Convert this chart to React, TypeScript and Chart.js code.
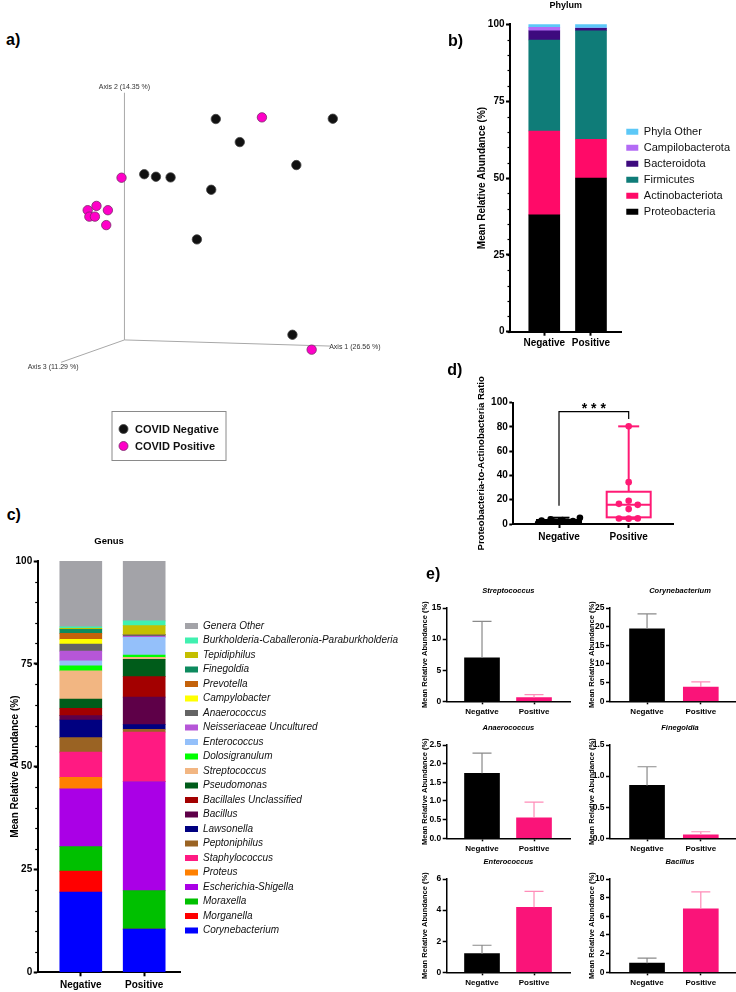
import React, { useEffect, useRef } from 'react';
import { Chart, registerables } from 'chart.js';

Chart.register(...registerables);

const FONT = "'Liberation Sans', Arial, Helvetica, sans-serif";
Chart.defaults.font.family = FONT;
Chart.defaults.color = '#000';

// ===================== Panel a : PCoA (projected 3D coordinates) =====================
const A_GROUPS = ['COVID Negative', 'COVID Positive'];
const A_NEG_X = [0.937, 2.137, 1.183, 1.763, 0.203, 0.323, 0.473, 0.89, 0.743, 1.723];
const A_NEG_Y = [2.27, 2.273, 2.033, 1.797, 1.703, 1.677, 1.67, 1.543, 1.033, 0.053];
const A_POS_X = [1.41, -0.03, -0.377, -0.287, -0.17, -0.36, -0.303, -0.187, 1.92];
const A_POS_Y = [2.287, 1.667, 1.333, 1.377, 1.333, 1.267, 1.267, 1.18, -0.1];
const A_AXIS_NAMES = ['Axis 1 (26.56 %)', 'Axis 2 (14.35 %)', 'Axis 3 (11.29 %)'];
const A_AXIS_END_X = [2.11, 0, -0.65];
const A_AXIS_END_Y = [-0.063, 2.54, -0.23];

// ===================== Panel b : Phylum =====================
const B_CATS = ['Negative', 'Positive'];
const B_PHYLA = ['Proteobacteria', 'Actinobacteriota', 'Firmicutes', 'Bacteroidota', 'Campilobacterota', 'Phyla Other'];
const B_NEG = [38.0, 27.3, 29.6, 3.0, 1.1, 1.0];
const B_POS = [50.0, 12.6, 35.3, 0.8, 0.1, 1.2];
const B_COLORS = ['#000000', '#ff0a68', '#0f7c78', '#3d0a7e', '#b36bf5', '#5cc8f7'];

// ===================== Panel c : Genus =====================
const C_CATS = ['Negative', 'Positive'];
const C_GENERA = [
  'Corynebacterium', 'Morganella', 'Moraxella', 'Escherichia-Shigella', 'Proteus', 'Staphylococcus',
  'Peptoniphilus', 'Lawsonella', 'Bacillus', 'Bacillales Unclassified', 'Pseudomonas', 'Streptococcus',
  'Dolosigranulum', 'Enterococcus', 'Neisseriaceae Uncultured', 'Anaerococcus', 'Campylobacter',
  'Prevotella', 'Finegoldia', 'Tepidiphilus', 'Burkholderia-Caballeronia-Paraburkholderia', 'Genera Other',
];
const C_NEG = [19.5, 5.1, 5.95, 14.05, 2.8, 6.15, 3.5, 4.3, 1.05, 1.8, 2.25, 6.85, 1.2, 1.2, 2.4, 1.7, 1.15, 1.45, 1.0, 0.2, 0.4, 16.0];
const C_POS = [10.5, 0, 9.35, 26.5, 0, 12.05, 0.7, 1.1, 6.7, 5.0, 4.2, 0.5, 0.55, 4.3, 0.25, 0.35, 0, 0.1, 0.05, 2.1, 1.15, 14.55];
const C_COLORS = [
  '#0000ff', '#ff0000', '#00c000', '#aa00e6', '#ff8000', '#ff1a82',
  '#9a6323', '#000080', '#5e0048', '#a30000', '#005c1a', '#f2b682',
  '#00ff00', '#94c0fa', '#b656d8', '#646464', '#ffff00',
  '#c4620a', '#0d8a5e', '#c4bf00', '#40f0b0', '#a3a3a8',
];

// ===================== Panel d : Proteobacteria-to-Actinobacteria ratio =====================
const D_GROUPS = ['Negative', 'Positive'];
const D_NEG = [0.6, 1.0, 1.3, 1.6, 2.0, 2.4, 2.9, 3.3, 3.9, 5.2];
const D_NEG_JITTER = [-0.3, 0.27, -0.18, 0.12, -0.08, 0.2, -0.25, 0.05, -0.12, 0.3];
const D_POS = [80.5, 34.5, 19.2, 16.6, 15.8, 12.3, 4.5, 4.4, 4.6];
const D_POS_JITTER = [0, 0, 0, -0.14, 0.13, 0, -0.14, 0, 0.13];
const D_Q1 = [1.2, 5.5];
const D_MED = [2.2, 15.8];
const D_Q3 = [3.3, 26.6];
const D_MIN = [0.5, 4.2];
const D_MAX = [5.2, 80.5];
const D_SIG_TEXT = '* * *';
const D_SIG_Y = 92.6;
const D_SIG_DROP = [15, 86.6];

// ===================== Panel e : selected genera =====================
const E_CATS = ['Negative', 'Positive'];
const E_GENERA = ['Streptococcus', 'Corynebacterium', 'Anaerococcus', 'Finegoldia', 'Enterococcus', 'Bacillus'];
const E_NEG_MEAN = [7.0, 19.4, 1.74, 0.85, 1.2, 0.98];
const E_NEG_SEM = [5.85, 4.0, 0.54, 0.3, 0.54, 0.55];
const E_POS_MEAN = [0.6, 3.8, 0.55, 0.055, 4.18, 6.8];
const E_POS_SEM = [0.47, 1.4, 0.42, 0.05, 1.03, 1.82];
const E_YMAX = [15, 25, 2.5, 1.5, 6, 10];
const E_YSTEP = [5, 5, 0.5, 0.5, 2, 2];

// ===================== helpers =====================
function legendNaturalWidth(texts: string[], size: number, style: string, boxWidth: number, padding: number) {
  const ctx = document.createElement('canvas').getContext('2d') as CanvasRenderingContext2D;
  ctx.font = `${style ? style + ' ' : ''}${size}px ${FONT}`;
  let m = 0;
  texts.forEach((t) => { m = Math.max(m, ctx.measureText(t).width); });
  return padding + boxWidth + size / 2 + m + 10;
}

function yScale(o: any) {
  const ticks: any = {
    stepSize: o.step, autoSkip: false, color: '#000', padding: 1.5,
    font: { size: o.tickSize, weight: 'bold' },
  };
  if (o.decimals) ticks.callback = (v: any) => Number(v).toFixed(o.decimals);
  return {
    type: 'linear', position: 'left', min: 0, max: o.max, stacked: !!o.stacked,
    ticks,
    grid: { display: true, drawOnChartArea: false, drawTicks: true, tickLength: 4, tickColor: '#000', tickWidth: o.bw },
    border: { display: true, color: '#000', width: o.bw },
    title: {
      display: true, text: o.title, color: '#000',
      font: { size: o.titleSize, weight: 'bold' },
      padding: { top: o.titlePad, bottom: 0 },
    },
    afterFit: (s: any) => { s.width = o.width; },
  };
}

function xScale(o: any) {
  return {
    type: 'linear', position: 'bottom', min: o.min, max: o.max, offset: false, stacked: !!o.stacked,
    afterBuildTicks: (s: any) => { s.ticks = o.cats.map((_: any, i: number) => ({ value: i })); },
    ticks: {
      autoSkip: false, maxRotation: 0, minRotation: 0, color: '#000', padding: o.pad,
      font: { size: o.tickSize, weight: 'bold' },
      callback: (v: any) => o.cats[Math.round(Number(v))] ?? '',
    },
    grid: { display: true, offset: false, drawOnChartArea: false, drawTicks: true, tickLength: o.tl ?? 4, tickColor: '#000', tickWidth: o.bw },
    border: { display: true, color: '#000', width: o.bw },
    afterFit: (s: any) => { s.height = o.height; },
  };
}

function minorTicksPlugin(step: number, len: number, width: number) {
  return {
    id: 'minorTicks',
    afterDraw(chart: any) {
      const s = chart.scales.y;
      const ctx = chart.ctx;
      ctx.save();
      ctx.strokeStyle = '#000';
      ctx.lineWidth = width;
      for (let v = s.min; v <= s.max + 1e-9; v += step) {
        const y = Math.round(s.getPixelForValue(v)) + 0.5;
        ctx.beginPath();
        ctx.moveTo(s.right, y);
        ctx.lineTo(s.right - len, y);
        ctx.stroke();
      }
      ctx.restore();
    },
  };
}

// ===================== chart makers =====================
function makeA() {
  const decor = {
    id: 'aDecor',
    beforeDatasetsDraw(chart: any) {
      const { ctx } = chart;
      const xs = chart.scales.x, ys = chart.scales.y;
      const place = [
        { align: 'left', dx: -1, dy: 1 },
        { align: 'center', dx: 0, dy: -6 },
        { align: 'center', dx: -8, dy: 5 },
      ];
      ctx.save();
      ctx.font = `7px ${FONT}`;
      ctx.fillStyle = '#333';
      ctx.textBaseline = 'middle';
      A_AXIS_NAMES.forEach((name, i) => {
        const px = xs.getPixelForValue(A_AXIS_END_X[i]);
        const py = ys.getPixelForValue(A_AXIS_END_Y[i]);
        ctx.textAlign = place[i].align;
        ctx.fillText(name, px + place[i].dx, py + place[i].dy);
      });
      ctx.restore();
    },
    afterDraw(chart: any) {
      const { ctx } = chart;
      const bx = 111.5, by = 351, bw = 114, bh = 49;
      ctx.save();
      ctx.strokeStyle = '#8a8a8a';
      ctx.lineWidth = 1;
      ctx.strokeRect(bx + 0.5, by + 0.5, bw, bh);
      const cols = ['#111111', '#ff00c8'];
      const edge = ['#444444', '#7a2a6a'];
      A_GROUPS.forEach((g, i) => {
        const cy = by + 18 + i * 17;
        ctx.beginPath();
        ctx.arc(bx + 12, cy, 4.5, 0, Math.PI * 2);
        ctx.fillStyle = cols[i];
        ctx.fill();
        ctx.strokeStyle = edge[i];
        ctx.lineWidth = 0.8;
        ctx.stroke();
        ctx.fillStyle = '#111';
        ctx.font = `bold 11px ${FONT}`;
        ctx.textAlign = 'left';
        ctx.textBaseline = 'middle';
        ctx.fillText(g, bx + 23.5, cy + 0.5);
      });
      ctx.restore();
    },
  };
  const axisLine = (i: number) => ({
    type: 'line',
    label: A_AXIS_NAMES[i],
    data: [{ x: 0, y: 0 }, { x: A_AXIS_END_X[i], y: A_AXIS_END_Y[i] }],
    borderColor: '#a8a8a8', borderWidth: 1, pointRadius: 0, showLine: true,
  });
  return {
    type: 'scatter',
    data: {
      datasets: [
        {
          label: A_GROUPS[0],
          data: A_NEG_X.map((x, i) => ({ x, y: A_NEG_Y[i] })),
          backgroundColor: '#111111', borderColor: '#444444', borderWidth: 0.8, pointRadius: 4.7,
        },
        {
          label: A_GROUPS[1],
          data: A_POS_X.map((x, i) => ({ x, y: A_POS_Y[i] })),
          backgroundColor: '#ff00c8', borderColor: '#7a2a6a', borderWidth: 0.8, pointRadius: 4.7,
        },
        axisLine(0), axisLine(1), axisLine(2),
      ],
    },
    options: {
      responsive: false, animation: false,
      layout: { padding: 0 },
      scales: {
        x: { type: 'linear', display: false, min: -1.22, max: 3.18 },
        y: { type: 'linear', display: false, min: -1.28, max: 2.82 },
      },
      plugins: { legend: { display: false }, tooltip: { enabled: false } },
    },
    plugins: [decor],
  };
}

const B_W = 300;
function makeB() {
  const legW = legendNaturalWidth(B_PHYLA, 11, '', 12, 5);
  const chartRight = 182;
  return {
    type: 'bar',
    data: {
      datasets: B_PHYLA.map((name, i) => ({
        label: name,
        data: [{ x: 0, y: B_NEG[i] }, { x: 1, y: B_POS[i] }],
        backgroundColor: B_COLORS[i], borderWidth: 0, barThickness: 31, stack: 's',
      })),
    },
    options: {
      responsive: false, animation: false,
      layout: { padding: { left: 0, top: 0, right: Math.max(0, B_W - chartRight - legW), bottom: 0 } },
      scales: {
        x: xScale({ cats: B_CATS, min: -0.734, max: 1.649, height: 20.3, pad: 1.5, tickSize: 10, bw: 2, stacked: true }),
        y: yScale({ max: 100, step: 25, width: 70, title: 'Mean Relative Abundance (%)', titleSize: 10, titlePad: 36, tickSize: 10, bw: 2, stacked: true }),
      },
      plugins: {
        title: {
          display: true, text: 'Phylum', fullSize: false, color: '#000',
          font: { size: 9, weight: 'bold' }, padding: { top: 0, bottom: 13.5 },
        },
        legend: {
          position: 'right', align: 'start', fullSize: true, reverse: true, maxWidth: 400,
          title: { display: true, text: ' ', font: { size: 10 }, padding: { top: 109.2, bottom: 0 } },
          labels: { boxWidth: 12, boxHeight: 6, padding: 5, color: '#111', font: { size: 11 } },
        },
        tooltip: { enabled: false },
      },
    },
    plugins: [minorTicksPlugin(5, 2.5, 1.2)],
  };
}

const C_W = 430;
function makeC() {
  const legW = legendNaturalWidth(C_GENERA, 10, 'italic', 13, 4.5);
  const chartRight = 180.5;
  return {
    type: 'bar',
    data: {
      datasets: C_GENERA.map((name, i) => ({
        label: name,
        data: [{ x: 0, y: C_NEG[i] }, { x: 1, y: C_POS[i] }],
        backgroundColor: C_COLORS[i], borderWidth: 0, barThickness: 42, stack: 's',
      })),
    },
    options: {
      responsive: false, animation: false,
      layout: { padding: { left: 0, top: 0, right: Math.max(0, C_W - chartRight - legW), bottom: 0 } },
      scales: {
        x: xScale({ cats: C_CATS, min: -0.68, max: 1.573, height: 19.7, pad: 3, tickSize: 10, bw: 2, stacked: true }),
        y: yScale({ max: 100, step: 25, width: 37.7, title: 'Mean Relative Abundance (%)', titleSize: 10, titlePad: 9, tickSize: 10, bw: 2, stacked: true }),
      },
      plugins: {
        title: {
          display: true, text: 'Genus', fullSize: false, color: '#000',
          font: { size: 9.5, weight: 'bold' }, padding: { top: 11, bottom: 13.6 },
        },
        legend: {
          position: 'right', align: 'start', fullSize: false, reverse: true, maxWidth: 400,
          title: { display: true, text: ' ', font: { size: 10 }, padding: { top: 43.5, bottom: 0 } },
          labels: { boxWidth: 13, boxHeight: 6, padding: 4.5, color: '#111', font: { size: 10, style: 'italic' } },
        },
        tooltip: { enabled: false },
      },
    },
    plugins: [minorTicksPlugin(5, 2.5, 1.2)],
  };
}

function makeD() {
  const colors = ['#000000', '#ff1a75'];
  const boxPlot = {
    id: 'boxPlot',
    beforeDatasetsDraw(chart: any) {
      const { ctx } = chart;
      const xs = chart.scales.x, ys = chart.scales.y;
      const boxW = 44, capW = 21;
      const line = (x1: number, y1: number, x2: number, y2: number) => {
        ctx.beginPath(); ctx.moveTo(x1, y1); ctx.lineTo(x2, y2); ctx.stroke();
      };
      ctx.save();
      ctx.lineWidth = 2;
      D_GROUPS.forEach((_, i) => {
        const cx = xs.getPixelForValue(i);
        const py = (v: number) => ys.getPixelForValue(v);
        ctx.strokeStyle = colors[i];
        ctx.strokeRect(cx - boxW / 2, py(D_Q3[i]), boxW, py(D_Q1[i]) - py(D_Q3[i]));
        line(cx - boxW / 2, py(D_MED[i]), cx + boxW / 2, py(D_MED[i]));
        line(cx, py(D_Q3[i]), cx, py(D_MAX[i]));
        line(cx, py(D_Q1[i]), cx, py(D_MIN[i]));
        line(cx - capW / 2, py(D_MAX[i]), cx + capW / 2, py(D_MAX[i]));
        line(cx - capW / 2, py(D_MIN[i]), cx + capW / 2, py(D_MIN[i]));
      });
      ctx.restore();
    },
    afterDatasetsDraw(chart: any) {
      const { ctx } = chart;
      const xs = chart.scales.x, ys = chart.scales.y;
      const x0 = xs.getPixelForValue(0), x1 = xs.getPixelForValue(1);
      const yb = ys.getPixelForValue(D_SIG_Y);
      ctx.save();
      ctx.strokeStyle = '#000';
      ctx.lineWidth = 1.2;
      ctx.beginPath();
      ctx.moveTo(x0, ys.getPixelForValue(D_SIG_DROP[0]));
      ctx.lineTo(x0, yb);
      ctx.lineTo(x1, yb);
      ctx.lineTo(x1, ys.getPixelForValue(D_SIG_DROP[1]));
      ctx.stroke();
      ctx.fillStyle = '#000';
      ctx.font = `bold 14px ${FONT}`;
      ctx.textAlign = 'center';
      ctx.textBaseline = 'alphabetic';
      ctx.fillText(D_SIG_TEXT, (x0 + x1) / 2, yb + 1);
      ctx.restore();
    },
  };
  return {
    type: 'scatter',
    data: {
      datasets: [
        {
          label: D_GROUPS[0],
          data: D_NEG.map((y, i) => ({ x: 0 + D_NEG_JITTER[i], y })),
          backgroundColor: colors[0], borderWidth: 0, pointRadius: 3.3,
        },
        {
          label: D_GROUPS[1],
          data: D_POS.map((y, i) => ({ x: 1 + D_POS_JITTER[i], y })),
          backgroundColor: colors[1], borderWidth: 0, pointRadius: 3.3,
        },
      ],
    },
    options: {
      responsive: false, animation: false,
      layout: { padding: { left: 0, top: 50.7, right: 63, bottom: 0 } },
      scales: {
        x: xScale({ cats: D_GROUPS, min: -0.656, max: 1.636, height: 28, pad: 3.5, tickSize: 10, bw: 2 }),
        y: yScale({ max: 100, step: 20, width: 73.3, title: 'Proteobacteria-to-Actinobacteria Ratio', titleSize: 9.5, titlePad: 36, tickSize: 10, bw: 2 }),
      },
      plugins: { legend: { display: false }, tooltip: { enabled: false } },
    },
    plugins: [boxPlot],
  };
}

const E_COLS = [
  { left: 400, w: 172, axisW: 46.7, titlePad: 20.5, padR: 2, xmin: -0.679, xmax: 1.692 },
  { left: 584, w: 168, axisW: 26, titlePad: 3.2, padR: 2, xmin: -0.689, xmax: 1.915 },
];
const E_ROW_TOPS = [582, 719, 853];

function makeE(i: number) {
  const col = E_COLS[i % 2];
  const means = [E_NEG_MEAN[i], E_POS_MEAN[i]];
  const sems = [E_NEG_SEM[i], E_POS_SEM[i]];
  const errColors = ['#8a8a8a', '#ff8cb8'];
  const errBars = {
    id: 'errBars',
    afterDatasetsDraw(chart: any) {
      const { ctx } = chart;
      const xs = chart.scales.x, ys = chart.scales.y;
      ctx.save();
      ctx.lineWidth = 1.2;
      means.forEach((m, j) => {
        const x = xs.getPixelForValue(j);
        const y0 = ys.getPixelForValue(m);
        const y1 = ys.getPixelForValue(m + sems[j]);
        ctx.strokeStyle = errColors[j];
        ctx.beginPath();
        ctx.moveTo(x, y0); ctx.lineTo(x, y1);
        ctx.moveTo(x - 9.5, y1); ctx.lineTo(x + 9.5, y1);
        ctx.stroke();
      });
      ctx.restore();
    },
  };
  return {
    type: 'bar',
    data: {
      datasets: [{
        label: E_GENERA[i],
        data: means.map((m, j) => ({ x: j, y: m })),
        backgroundColor: ['#000000', '#fa1479'], borderWidth: 0, barThickness: 35,
      }],
    },
    options: {
      responsive: false, animation: false,
      layout: { padding: { left: 0, top: 0, right: col.padR, bottom: 0 } },
      scales: {
        x: xScale({ cats: E_CATS, min: col.xmin, max: col.xmax, height: 16.7, pad: 2.5, tickSize: 8, bw: 1.5, tl: 3 }),
        y: yScale({
          max: E_YMAX[i], step: E_YSTEP[i], decimals: E_YSTEP[i] < 1 ? 1 : 0, width: col.axisW,
          title: 'Mean Relative Abundance (%)', titleSize: 7.5, titlePad: col.titlePad, tickSize: 8.5, bw: 1.5,
        }),
      },
      plugins: {
        title: {
          display: true, text: E_GENERA[i], fullSize: false, color: '#000',
          font: { size: 7.5, weight: 'bold', style: 'italic' }, padding: { top: 4.8, bottom: 12.2 },
        },
        legend: { display: false },
        tooltip: { enabled: false },
      },
    },
    plugins: [errBars],
  };
}

// ===================== components =====================
function ChartCanvas(props: { x: number; y: number; w: number; h: number; make: () => any }) {
  const ref = useRef<HTMLCanvasElement | null>(null);
  useEffect(() => {
    const el = ref.current;
    if (!el) return;
    const chart = new Chart(el, props.make());
    return () => chart.destroy();
  }, []);
  return (
    <div style={{ position: 'absolute', left: props.x, top: props.y, width: props.w, height: props.h }}>
      <canvas ref={ref} width={props.w} height={props.h} style={{ display: 'block', width: props.w, height: props.h }} />
    </div>
  );
}

const LETTERS = [
  { t: 'a)', x: 6, y: 41.7 },
  { t: 'b)', x: 448, y: 42.3 },
  { t: 'c)', x: 6.7, y: 516.7 },
  { t: 'd)', x: 447.3, y: 371.7 },
  { t: 'e)', x: 426, y: 575 },
];

export default function App() {
  return (
    <div style={{ position: 'absolute', left: 0, top: 0, width: 736, height: 992, overflow: 'hidden', background: '#fff' }}>
      <ChartCanvas x={0} y={60} w={440} h={410} make={makeA} />
      <ChartCanvas x={440} y={0} w={B_W} h={352} make={makeB} />
      <ChartCanvas x={440} y={352} w={296} h={200} make={makeD} />
      <ChartCanvas x={0} y={525} w={C_W} h={467} make={makeC} />
      {E_GENERA.map((_, i) => {
        const col = E_COLS[i % 2];
        return (
          <ChartCanvas key={i} x={col.left} y={E_ROW_TOPS[Math.floor(i / 2)]} w={col.w} h={136} make={() => makeE(i)} />
        );
      })}
      {LETTERS.map((l) => (
        <div key={l.t} style={{ position: 'absolute', left: l.x, top: l.y - 9.4, font: `bold 16px ${FONT}`, lineHeight: '16px', color: '#000' }}>
          {l.t}
        </div>
      ))}
    </div>
  );
}
